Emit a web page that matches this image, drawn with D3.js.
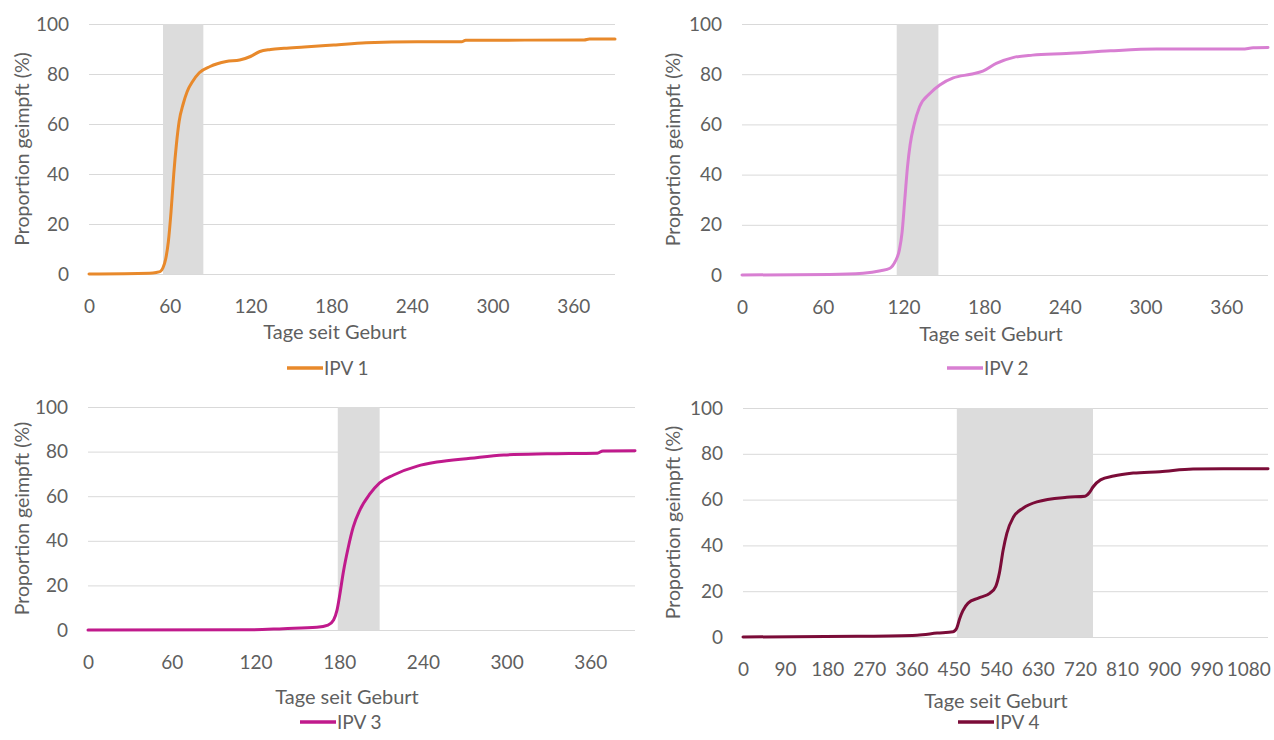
<html>
<head>
<meta charset="utf-8">
<script src="https://d3js.org/d3.v7.min.js"></script>
<style>
  body { margin: 0; background: #fff; }
  text { font-family: Lato, "Open Sans", sans-serif; fill: #5f5f5f; }
  .grid line { stroke: #d9d9d9; stroke-width: 1; }
  .tick text { font-size: 19px; }
</style>
</head>
<body onload="init()">
<svg width="1274" height="740"></svg>
<script>
// data: day since birth -> percent vaccinated
const ipv1Days = [0, 45, 50, 53, 55, 57, 59, 61, 63, 65, 67, 70, 73, 77, 82, 90, 102, 112, 120, 127, 135, 145, 160, 182, 206, 244, 277, 280, 368, 372, 391];
const ipv1Pct  = [0, 0.3, 0.6, 1, 2.5, 6, 13, 25, 40, 52, 61, 68, 73, 77, 80.5, 83, 85, 85.6, 87, 89, 89.8, 90.3, 90.8, 91.6, 92.5, 92.9, 92.9, 93.5, 93.6, 94, 94];

const ipv2Days = [0, 65, 90, 103, 110, 114, 117, 119, 121, 123, 125, 128, 132, 140, 147, 157, 170, 179, 189, 202, 216, 241, 274, 308, 372, 380, 391];
const ipv2Pct  = [0, 0.2, 0.7, 1.7, 2.7, 5.5, 10, 17, 30, 43, 52, 60, 67, 72.5, 75.7, 78.5, 80, 81.2, 84.3, 86.7, 87.6, 88.2, 89.3, 90, 90, 90.5, 90.6];

const ipv3Days = [0, 118, 140, 164, 172, 176, 178.5, 180.5, 183, 186.5, 190, 195, 202, 209, 219, 236, 250, 274, 298, 329, 365, 369, 392];
const ipv3Pct  = [0, 0.1, 0.6, 1.2, 2.2, 4.5, 9, 16, 26, 37, 46, 54, 61, 66, 69.5, 73.5, 75.3, 77, 78.5, 79, 79.3, 80.3, 80.4];

const ipv4Days = [0, 244, 372, 415, 449, 457, 463, 470, 481, 503, 528, 540, 548, 556, 564, 578, 599, 628, 692, 731, 740, 748, 764, 792, 834, 891, 962, 1122];
const ipv4Pct  = [0, 0.3, 0.8, 1.7, 2.3, 4, 8, 11.5, 14.8, 17, 19.2, 22, 28, 38, 45.4, 52.4, 56.3, 59, 61, 61.5, 63, 65.5, 68.6, 70.3, 71.6, 72.2, 73.4, 73.5];

// recommended vaccination windows (grey bands), days
const windows = [[55, 85], [115, 146], [179, 209], [457, 748]];

const seriesNames = ["IPV 1", "IPV 2", "IPV 3", "IPV 4"];
const xTicksYear = [0, 60, 120, 180, 240, 300, 360];
const xTicksLong = [0, 90, 180, 270, 360, 450, 540, 630, 720, 810, 900, 990, 1080];
const yTicks = [0, 20, 40, 60, 80, 100];

const xTitle = "Tage seit Geburt";
const yTitle = "Proportion geimpft (%)";

function init() {
  const svg = d3.select("svg");

  const panels = [
    { days: ipv1Days, pct: ipv1Pct, name: seriesNames[0], win: windows[0], xMax: 391, ticks: xTicksYear, color: "#e8892b",
      l: 89, r: 615, t: 24, b: 274, titleX: 335, titleY: 339, legX: 287, legY: 368, yTitleX: 22 },
    { days: ipv2Days, pct: ipv2Pct, name: seriesNames[1], win: windows[1], xMax: 391, ticks: xTicksYear, color: "#d87fd2",
      l: 742, r: 1268, t: 24, b: 275, titleX: 991, titleY: 341, legX: 947, legY: 368, yTitleX: 673 },
    { days: ipv3Days, pct: ipv3Pct, name: seriesNames[2], win: windows[2], xMax: 392, ticks: xTicksYear, color: "#c01a8c",
      l: 88, r: 635, t: 407, b: 630, titleX: 347, titleY: 704, legX: 300, legY: 722, yTitleX: 22 },
    { days: ipv4Days, pct: ipv4Pct, name: seriesNames[3], win: windows[3], xMax: 1122, ticks: xTicksLong, color: "#7b0c38",
      l: 743, r: 1268, t: 408, b: 637, titleX: 996, titleY: 708, legX: 958, legY: 722, yTitleX: 673 }
  ];

  panels.forEach(function(p) {
    const x = d3.scaleLinear().domain([0, p.xMax]).range([p.l, p.r]);
    const y = d3.scaleLinear().domain([0, 100]).range([p.b, p.t]);
    const g = svg.append("g");

    // gridlines
    g.append("g")
      .attr("class", "grid")
      .attr("transform", "translate(" + p.l + ",0)")
      .call(d3.axisLeft(y).tickValues(yTicks).tickSize(-(p.r - p.l)).tickFormat(""))
      .call(function(a) { a.select(".domain").remove(); });

    // grey band
    g.append("rect")
      .attr("x", x(p.win[0]))
      .attr("y", y(100))
      .attr("width", x(p.win[1]) - x(p.win[0]))
      .attr("height", y(0) - y(100))
      .attr("fill", "#dcdcdc");

    // y tick labels
    g.append("g")
      .attr("transform", "translate(" + (p.l - 12) + ",0)")
      .call(d3.axisLeft(y).tickValues(yTicks).tickSize(0).tickPadding(8))
      .call(function(a) { a.select(".domain").remove(); });

    // x tick labels
    g.append("g")
      .attr("transform", "translate(0," + (p.b + 20) + ")")
      .call(d3.axisBottom(x).tickValues(p.ticks).tickSize(0).tickPadding(6).tickFormat(d3.format("d")))
      .call(function(a) { a.select(".domain").remove(); });

    // the curve
    const pts = p.days.map(function(d, i) { return [d, p.pct[i]]; });
    g.append("path")
      .datum(pts)
      .attr("fill", "none")
      .attr("stroke", p.color)
      .attr("stroke-width", 3)
      .attr("stroke-linejoin", "round")
      .attr("stroke-linecap", "round")
      .attr("d", d3.line().x(function(d) { return x(d[0]); }).y(function(d) { return y(d[1]); }).curve(d3.curveMonotoneX));

    // axis titles
    g.append("text")
      .attr("x", p.titleX).attr("y", p.titleY)
      .attr("text-anchor", "middle")
      .style("font-size", "20px")
      .text(xTitle);

    g.append("text")
      .attr("transform", "translate(" + p.yTitleX + "," + ((p.t + p.b) / 2) + ") rotate(-90)")
      .attr("text-anchor", "middle")
      .attr("dy", "0.35em")
      .style("font-size", "19.5px")
      .text(yTitle);

    // legend
    g.append("line")
      .attr("x1", p.legX).attr("x2", p.legX + 36)
      .attr("y1", p.legY).attr("y2", p.legY)
      .attr("stroke", p.color).attr("stroke-width", 3.5);
    g.append("text")
      .attr("x", p.legX + 37).attr("y", p.legY + 7)
      .style("font-size", "19px")
      .text(p.name);
  });
}
</script>
</body>
</html>
